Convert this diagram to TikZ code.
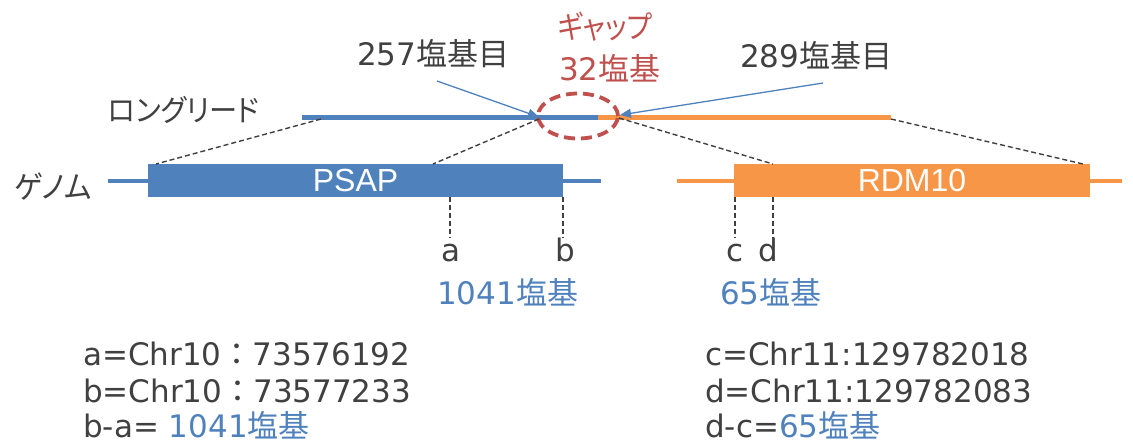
\documentclass[tikz,border=0pt]{standalone}
\usepackage{fontspec}
\usepackage{graphicx}
\setmainfont{DejaVu Sans}
\newfontfamily\jp[RawFeature=+palt]{Noto Sans CJK JP}
\newfontfamily\jpw{Noto Sans CJK JP}
\newfontfamily\arialf{Liberation Sans}
\usetikzlibrary{arrows.meta,shapes.geometric}
\definecolor{cblue}{HTML}{4F81BD}
\definecolor{corange}{HTML}{F79646}
\definecolor{cred}{HTML}{C0504D}
\definecolor{ctext}{HTML}{404040}
\tikzset{
  lbl/.style={inner sep=0pt, anchor=base west, text=ctext, font=\fontsize{31}{31}\selectfont},
  lblc/.style={lbl, anchor=base},
  gbox/.style={inner sep=0pt, minimum height=33pt, text=white, font=\arialf\fontsize{32}{32}\selectfont},
  guide/.style={draw=ctext, line width=1.4pt, dash pattern=on 5pt off 3pt},
  ptr/.style={draw=cblue, line width=1.3pt, -{Triangle[length=11pt,width=9pt]}},
  readline/.style={line width=5pt},
  genline/.style={line width=3.5pt},
}
\begin{document}
\begin{tikzpicture}[x=1pt,y=-1pt]
\useasboundingbox (0,0) rectangle (1133,445);
% genome
\draw[genline, cblue] (108,181) coordinate (g1s) -- (601,181) coordinate (g1e);
\draw[genline, corange] (677,181) coordinate (g2s) -- (1122,181) coordinate (g2e);
\node[gbox, fill=cblue, minimum width=415pt] (psap) at (355.5,180.5) {PSAP};
\node[gbox, fill=corange, minimum width=356pt] (rdm) at (912,180.5) {RDM10};
% long read
\coordinate (r1) at (302,117.5);
\coordinate (rj) at (598,117.5);
\coordinate (r2) at (891,117.5);
\draw[readline, cblue] (r1) -- (rj);
\draw[readline, corange] (rj) -- (r2);
% gap ellipse
\node[draw=cred, line width=3.8pt, dash pattern=on 11pt off 6pt, ellipse, minimum width=80pt, minimum height=45pt, inner sep=0pt] (gap) at (578,116) {};
% guides
\coordinate (rA) at (321,119);
\coordinate (rB) at (539,119);
\coordinate (rC) at (619,118);
\coordinate (rD) at (891,119);
\coordinate (gA) at (156,164);
\coordinate (gB) at (433,164);
\coordinate (gC) at (773,164);
\coordinate (gD) at (1083,164);
\draw[guide] (rA) -- (gA);
\draw[guide] (rB) -- (gB);
\draw[guide] (rC) -- (gC);
\draw[guide] (rD) -- (gD);
% vertical markers
\coordinate (ma) at (450,197); \coordinate (mae) at (450,238);
\coordinate (mb) at (563,197); \coordinate (mbe) at (563,238);
\coordinate (mc) at (735,197); \coordinate (mce) at (735,238);
\coordinate (md) at (773,197); \coordinate (mde) at (773,238);
\draw[guide] (ma) -- (mae);
\draw[guide] (mb) -- (mbe);
\draw[guide] (mc) -- (mce);
\draw[guide] (md) -- (mde);
% labels top
\node[lbl] (l257) at (357,65) {257{\jp 塩基目}};
\node[lbl] (l289) at (740,67) {289{\jp 塩基目}};
\node[lblc, text=cred] (lgap) at (605,38) {\jp\scalebox{0.88}[1]{ギャップ}};
\node[lbl, text=cred] (l32) at (559,80) {32{\jp 塩基}};
\node[lbl, font=\jp\fontsize{30}{30}\selectfont] (lread) at (108,121) {\scalebox{0.94}[1]{ロングリード}};
\node[lbl, font=\jp\fontsize{31}{31}\selectfont] (lgen) at (14,198) {\scalebox{0.94}[1]{ゲノム}};
% arrows
\coordinate (p1) at (437,81);
\coordinate (p2) at (823,83);
\coordinate (q1) at (539,117);
\coordinate (q2) at (620,115);
\draw[ptr] (p1) -- (q1);
\draw[ptr] (p2) -- (q2);
% marker labels
\node[lblc] (la) at (451,261) {a};
\node[lblc] (lb) at (565,261) {b};
\node[lblc] (lc) at (735,261) {c};
\node[lblc] (ld) at (768,261) {d};
\node[lbl, text=cblue] (len1) at (437,304) {1041{\jp 塩基}};
\node[lbl, text=cblue] (len2) at (720,304) {65{\jp 塩基}};
% bottom text
\node[lbl] (t1) at (83,365) {a=Chr10{\jpw ：}73576192};
\node[lbl] (t2) at (83,402) {b=Chr10{\jpw ：}73577233};
\node[lbl] (t3) at (83,437) {b-a= \textcolor{cblue}{1041{\jp 塩基}}};
\node[lbl] (t4) at (705,365) {c=Chr11:129782018};
\node[lbl] (t5) at (705,402) {d=Chr11:129782083};
\node[lbl] (t6) at (705,437) {d-c=\textcolor{cblue}{65{\jp 塩基}}};
\end{tikzpicture}
\end{document}
